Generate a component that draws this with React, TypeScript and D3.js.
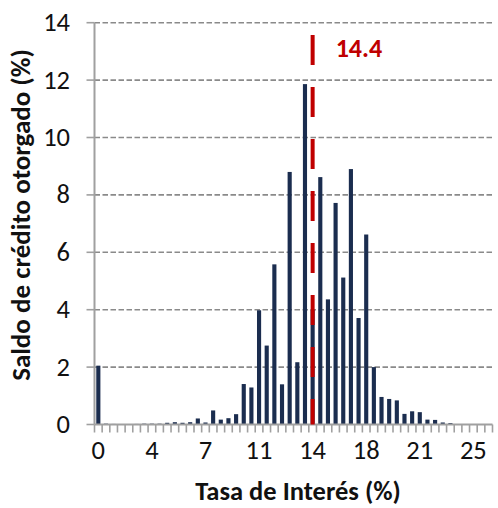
import React, { useEffect, useRef } from 'react';
import * as d3 from 'd3';

// interest rate buckets (%), 0.5 wide
const rates: number[] = [
    0, 0.5, 1, 1.5, 2, 2.5, 3, 3.5, 4, 4.5, 5, 5.5, 6, 6.5, 7, 7.5, 8, 8.5, 9, 9.5,
    10, 10.5, 11, 11.5, 12, 12.5, 13, 13.5, 14, 14.5, 15, 15.5, 16, 16.5, 17, 17.5,
    18, 18.5, 19, 19.5, 20, 20.5, 21, 21.5, 22, 22.5, 23, 23.5, 24, 24.5, 25, 25.5
];

// share of outstanding credit (%)
const shares: number[] = [
    2.05, 0.03, 0.02, 0.01, 0.01, 0.02, 0.03, 0.03, 0.03, 0.06, 0.08, 0.06, 0.08, 0.21,
    0.07, 0.49, 0.17, 0.22, 0.36, 1.41, 1.29, 3.98, 2.75, 5.58, 1.40, 8.80, 2.17, 11.86,
    4.0, 8.62, 4.36, 7.72, 5.12, 8.90, 3.71, 6.62, 2.0, 0.96, 0.89, 0.84, 0.37, 0.46,
    0.43, 0.17, 0.16, 0.07, 0.05, 0, 0, 0, 0, 0
];

const xTickRates: number[] = [0, 3.5, 7, 10.5, 14, 17.5, 21, 24.5];
const xTickLabels: string[] = ['0', '4', '7', '11', '14', '18', '21', '25'];
const yTicks: number[] = [0, 2, 4, 6, 8, 10, 12, 14];

const meanRate = 14.4;

const W = 498;
const H = 508;
const FONT = "Calibri, Carlito, 'Open Sans', sans-serif";

const App: React.FC = () => {
    const svgRef = useRef<SVGSVGElement>(null);

    useEffect(() => {
        if (!svgRef.current) return;
        const svg = d3.select(svgRef.current);
        svg.selectAll('*').remove();

        const x = d3.scaleBand<number>()
            .domain(rates)
            .range([94.5, 492.5])
            .paddingInner(0.46)
            .paddingOuter(0.23);

        const y = d3.scaleLinear()
            .domain([0, 14])
            .range([424.5, 22.7]);

        const step = x.step();
        const left = 94.5;
        const right = 492.5;

        // gridlines
        svg.append('g')
            .selectAll('line')
            .data(yTicks.filter(t => t > 0))
            .enter()
            .append('line')
            .attr('x1', left)
            .attr('x2', right)
            .attr('y1', d => y(d))
            .attr('y2', d => y(d))
            .attr('stroke', '#8a8a8a')
            .attr('stroke-width', 1.6)
            .attr('stroke-dasharray', '5.5,2.5');

        // bars
        svg.append('g')
            .selectAll('rect')
            .data(rates)
            .enter()
            .append('rect')
            .attr('x', d => x(d)!)
            .attr('width', x.bandwidth())
            .attr('y', (_, i) => y(shares[i]))
            .attr('height', (_, i) => y(0) - y(shares[i]))
            .attr('fill', '#1b2d4f');

        // x axis line + ticks at category boundaries
        const gx = svg.append('g');
        gx.append('line')
            .attr('x1', left).attr('x2', right)
            .attr('y1', y(0)).attr('y2', y(0))
            .attr('stroke', '#a0a0a0')
            .attr('stroke-width', 2);
        gx.selectAll('line.tick')
            .data(d3.range(rates.length + 1))
            .enter()
            .append('line')
            .attr('class', 'tick')
            .attr('x1', i => left + i * step)
            .attr('x2', i => left + i * step)
            .attr('y1', y(0))
            .attr('y2', y(0) + 8)
            .attr('stroke', '#a0a0a0')
            .attr('stroke-width', 1.6);
        gx.selectAll('text')
            .data(xTickRates)
            .enter()
            .append('text')
            .attr('x', d => x(d)! + x.bandwidth() / 2)
            .attr('y', 458.5)
            .attr('text-anchor', 'middle')
            .attr('font-family', FONT)
            .attr('font-size', 26.5)
            .attr('fill', '#111')
            .text((_, i) => xTickLabels[i]);

        // y axis
        const gy = svg.append('g');
        gy.append('line')
            .attr('x1', left).attr('x2', left)
            .attr('y1', y(14)).attr('y2', y(0))
            .attr('stroke', '#a0a0a0')
            .attr('stroke-width', 2);
        gy.selectAll('line.tick')
            .data(yTicks)
            .enter()
            .append('line')
            .attr('class', 'tick')
            .attr('x1', left - 8)
            .attr('x2', left)
            .attr('y1', d => y(d))
            .attr('y2', d => y(d))
            .attr('stroke', '#a0a0a0')
            .attr('stroke-width', 1.6);
        gy.selectAll('text')
            .data(yTicks)
            .enter()
            .append('text')
            .attr('x', 70)
            .attr('y', d => y(d))
            .attr('dy', '0.32em')
            .attr('text-anchor', 'end')
            .attr('font-family', FONT)
            .attr('font-size', 26.5)
            .attr('fill', '#111')
            .text(d => String(d));

        // mean rate marker, drawn at its bucket
        const markerRate = Math.floor(meanRate / 0.5) * 0.5;
        const mx = x(markerRate)! + x.bandwidth() / 2;
        svg.append('line')
            .attr('x1', mx).attr('x2', mx)
            .attr('y1', y(13.57)).attr('y2', y(0))
            .attr('stroke', '#c00000')
            .attr('stroke-width', 4)
            .attr('stroke-dasharray', '30,22');
        svg.append('text')
            .attr('x', mx + 23)
            .attr('y', y(12.8))
            .attr('font-family', FONT)
            .attr('font-size', 26)
            .attr('font-weight', 'bold')
            .attr('fill', '#c00000')
            .text(meanRate.toFixed(1));

        // axis titles
        svg.append('text')
            .attr('x', 298)
            .attr('y', 500)
            .attr('text-anchor', 'middle')
            .attr('font-family', FONT)
            .attr('font-size', 26.5)
            .attr('font-weight', 'bold')
            .attr('fill', '#111')
            .text('Tasa de Interés (%)');

        svg.append('text')
            .attr('transform', 'translate(30, 215) rotate(-90)')
            .attr('text-anchor', 'middle')
            .attr('font-family', FONT)
            .attr('font-size', 27)
            .attr('font-weight', 'bold')
            .attr('fill', '#111')
            .text('Saldo de crédito otorgado (%)');
    }, []);

    return (
        <svg
            ref={svgRef}
            width={W}
            height={H}
            style={{ position: 'absolute', left: 0, top: 0, background: '#fff' }}
        />
    );
};

export default App;
